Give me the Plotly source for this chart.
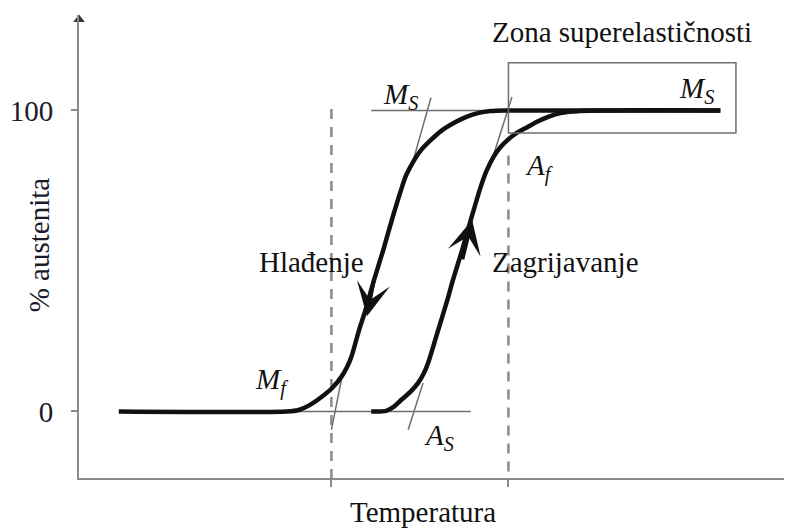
import plotly.graph_objects as go

# temperatura (proizvoljne jedinice) i % austenita
temp_hladjenje = [90.2, 60.0, 57.9, 56.1, 54.4, 52.7, 51.0, 49.5, 48.1, 47.0, 46.0, 45.3, 44.0,
                  42.8, 41.5, 40.3, 39.4, 38.3, 37.7, 36.9, 35.6, 34.1, 32.5, 30.9, 29.2, 5.6]
aust_hladjenje = [100, 100, 99.8, 99.1, 97.8, 95.8, 93.3, 90.2, 86.8, 82.9, 78.4, 73.6, 63.6,
                  53.7, 43.7, 33.7, 27.1, 18.1, 14.8, 11.5, 7.8, 4.8, 2.2, 0.5, 0, 0]

temp_zagrijavanje = [41.1, 43.2, 44.3, 45.3, 46.6, 47.7, 48.5, 49.1, 50.4, 51.8, 52.6, 53.9,
                     55.1, 56.5, 57.3, 58.3, 59.2, 60.3, 61.6, 63.1, 64.5, 65.9, 67.7, 70.5, 90.2]
aust_zagrijavanje = [0, 0.2, 1.6, 3.8, 6.5, 9.5, 12.7, 16.1, 26.1, 37.0, 43.7, 53.7,
                     63.6, 74.6, 79.8, 84.6, 87.6, 90.2, 92.6, 94.5, 96.3, 97.8, 99.1, 99.8, 100]

# pomocne linije (0 % i 100 %)
ref_gore_t = [41.1, 90.2]
ref_dolje_t = [5.6, 55.1]

# tangente: Ms, Af, Mf, As
tangente = {
    "Ms": ([49.5, 46.6], [104.2, 80.0]),
    "Af": ([60.9, 58.3], [104.5, 85.2]),
    "Mf": ([36.9, 35.5], [10.5, -6.1]),
    "As": ([48.4, 46.3], [9.5, -6.1]),
}

# isprekidane vertikale (Mf i Af)
t_mf = 35.5
t_af = 60.4

# zona superelasticnosti
zona_t = [60.4, 92.4]
zona_a = [92.5, 115.8]

x_range = [0, 100]
y_range = [-22.1, 131.7]

crna = "#111111"
siva = "#6e6e6e"
font_serif = "Liberation Serif, Times New Roman, DejaVu Serif, serif"

fig = go.Figure()

# dashed lines
for t, y0 in [(t_mf, 100.5), (t_af, 85)]:
    fig.add_trace(go.Scatter(x=[t, t], y=[y0, y_range[0]], mode="lines",
                             line=dict(color="#8a8a8a", width=2.5, dash="10px,8px"),
                             hoverinfo="skip"))

# thin reference lines
fig.add_trace(go.Scatter(x=ref_gore_t, y=[100, 100], mode="lines",
                         line=dict(color=siva, width=1.5), hoverinfo="skip"))
fig.add_trace(go.Scatter(x=ref_dolje_t, y=[0, 0], mode="lines",
                         line=dict(color=siva, width=1.5), hoverinfo="skip"))

for k, (tx, ty) in tangente.items():
    fig.add_trace(go.Scatter(x=tx, y=ty, mode="lines",
                             line=dict(color=siva, width=1.5), hoverinfo="skip"))

# main curves
fig.add_trace(go.Scatter(x=temp_hladjenje, y=aust_hladjenje, mode="lines",
                         line=dict(color=crna, width=4.5, shape="spline", smoothing=0.8)))
fig.add_trace(go.Scatter(x=temp_zagrijavanje, y=aust_zagrijavanje, mode="lines",
                         line=dict(color=crna, width=4.5, shape="spline", smoothing=0.8)))

# axis arrow tips
fig.add_trace(go.Scatter(x=[x_range[0]], y=[y_range[1] - 1.5], mode="markers",
                         marker=dict(symbol="triangle-up", size=10, color="#333333"),
                         cliponaxis=False, hoverinfo="skip"))
fig.add_trace(go.Scatter(x=[x_range[1] - 0.3], y=[y_range[0]], mode="markers",
                         marker=dict(symbol="triangle-right", size=9, color="#333333"),
                         cliponaxis=False, hoverinfo="skip"))

fig.add_shape(type="rect", x0=zona_t[0], x1=zona_t[1], y0=zona_a[0], y1=zona_a[1],
              line=dict(color=siva, width=1.5))

# direction arrows
fig.add_annotation(x=40.5, y=31.6, ax=41.5, ay=43.7, axref="x", ayref="y",
                   showarrow=True, arrowhead=3, arrowsize=1.6, arrowwidth=3.5,
                   arrowcolor=crna, text="")
fig.add_annotation(x=55.3, y=63.6, ax=53.9, ay=50.0, axref="x", ayref="y",
                   showarrow=True, arrowhead=3, arrowsize=1.6, arrowwidth=3.5,
                   arrowcolor=crna, text="")

tekst = dict(family=font_serif, size=29, color=crna)
oznake = [
    ("<i>M</i><sub><i>S</i></sub>", 45.2, 104.8),
    ("<i>M</i><sub><i>S</i></sub>", 86.8, 106.8),
    ("<i>A</i><sub><i>f</i></sub>", 64.7, 80.9),
    ("<i>M</i><sub><i>f</i></sub>", 27.1, 9.8),
    ("<i>A</i><sub><i>S</i></sub>", 50.6, -8.5),
    ("Hlađenje", 32.7, 49.7),
    ("Zagrijavanje", 68.4, 49.7),
    ("Zona superelastičnosti", 76.4, 126.1),
]
for txt, x, y in oznake:
    fig.add_annotation(x=x, y=y, text=txt, showarrow=False, font=tekst)

fig.add_annotation(x=0.484, y=-0.073, xref="paper", yref="paper", text="Temperatura",
                   xanchor="center", yanchor="middle", showarrow=False, font=tekst)
fig.add_annotation(x=-0.056, y=0.503, xref="paper", yref="paper", text="% austenita",
                   xanchor="center", yanchor="middle", textangle=-90, showarrow=False,
                   font=dict(family=font_serif, size=29, color="#1a1a2a"))

# the page body has an 8px margin, so the figure is 8px smaller and shifted
fig.update_layout(
    width=784, height=520,
    margin=dict(l=69, r=2, t=7, b=50),
    plot_bgcolor="white", paper_bgcolor="white",
    showlegend=False,
    xaxis=dict(range=x_range, showgrid=False, zeroline=False, showline=True,
               linecolor="#8a8a8a", linewidth=2, ticks="outside", ticklen=7,
               tickcolor="#8a8a8a", tickwidth=2, tickvals=[t_mf, t_af],
               showticklabels=False),
    yaxis=dict(range=y_range, showgrid=False, zeroline=False, showline=True,
               linecolor="#8a8a8a", linewidth=2, ticks="outside", ticklen=6,
               tickcolor="#8a8a8a", tickwidth=2, tickvals=[0, 100],
               ticktext=["0", "100"], ticklabelstandoff=12,
               tickfont=dict(family=font_serif, size=29, color="#1a1a2a")),
)

fig.write_html("out.html")
